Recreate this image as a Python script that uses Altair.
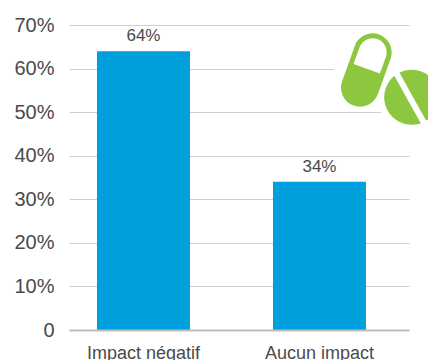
import altair as alt
import pandas as pd

categories = ["Impact négatif", "Aucun impact"]
shares = [64, 34]
tick_values = [0, 10, 20, 30, 40, 50, 60, 70]

FONT = "Liberation Sans"
TEXT = "#4a4a4a"
LEFT, TOP = 69, 25


def shift(x, y):
    return f"{x - LEFT:.1f},{y - TOP:.1f}"


# Pill icon outlines, written in page pixels and moved into plot coordinates
capsule = (f"M{shift(354.8, 45.9)} A19,19 0 0 1 {shift(390.6, 58.7)} "
           f"L{shift(377.9, 94.1)} A19,19 0 0 1 {shift(342.1, 81.3)} Z")
capsule_window = (f"M{shift(353.5, 64)} L{shift(359.5, 47.6)} "
                  f"A14,14 0 0 1 {shift(385.9, 57)} L{shift(379.9, 73.4)} Z")
tablet = (f"M{shift(384.2, 97.3)} A27.5,27.5 0 1 1 {shift(439.2, 97.3)} "
          f"A27.5,27.5 0 1 1 {shift(384.2, 97.3)} Z")
tablet_score = (f"M{shift(397.3, 68.8)} L{shift(428.5, 124.8)} "
                f"L{shift(423.3, 127.8)} L{shift(392.1, 71.8)} Z")
icon_backdrop = (f"M{shift(334, 60)} L{shift(411, 60)} L{shift(411, 76)} L{shift(334, 76)} Z "
                 f"M{shift(381, 104)} L{shift(411, 104)} L{shift(411, 120)} L{shift(381, 120)} Z")

GREEN = "#8dc63f"
WHITE = "#ffffff"

df = pd.DataFrame({"category": categories, "share": shares})

x = alt.X(
    "category:N",
    sort=categories,
    title=None,
    scale=alt.Scale(paddingInner=0.4716, paddingOuter=0.2017, align=0.394),
    axis=alt.Axis(
        labelAngle=0, labelFont=FONT, labelFontSize=18, labelColor=TEXT,
        labelPadding=14, ticks=False, domainColor="#bdbdbd", domainWidth=2,
        zindex=1, labelLimit=200,
    ),
)
y = alt.Y(
    "share:Q",
    title=None,
    scale=alt.Scale(domain=[0, 70], nice=False),
    axis=alt.Axis(
        values=tick_values,
        labelExpr="datum.value === 0 ? '0' : datum.value + '%'",
        labelFont=FONT, labelFontSize=20, labelColor=TEXT, labelPadding=15,
        ticks=False, domain=False, gridColor="#cfcfcf", gridWidth=1,
    ),
)

bars = alt.Chart(df).mark_bar(color="#00a0dc").encode(x=x, y=y)
labels = (
    alt.Chart(df)
    .transform_calculate(label="datum.share + '%'")
    .mark_text(font=FONT, fontSize=17, color=TEXT, baseline="bottom", dy=-6)
    .encode(x=x, y=y, text="label:N")
)


def icon_part(path, color):
    # A custom symbol path is drawn at half of sqrt(size), so size 4 keeps it at 1:1
    return alt.Chart(df.head(1)).mark_point(
        shape=path, size=4, filled=True, fill=color, opacity=1
    ).encode(x=alt.value(0), y=alt.value(0))


chart = (
    alt.layer(
        bars, labels,
        icon_part(icon_backdrop, WHITE),
        icon_part(capsule, GREEN),
        icon_part(capsule_window, WHITE),
        icon_part(tablet, GREEN),
        icon_part(tablet_score, WHITE),
    )
    .properties(
        width=340, height=305,
        autosize=alt.AutoSizeParams(type="none"),
        padding={"left": LEFT, "top": TOP, "right": 19, "bottom": 30},
    )
    .configure_view(stroke=None)
)

chart.save("out.html", embed_options={"renderer": "svg", "actions": False})
